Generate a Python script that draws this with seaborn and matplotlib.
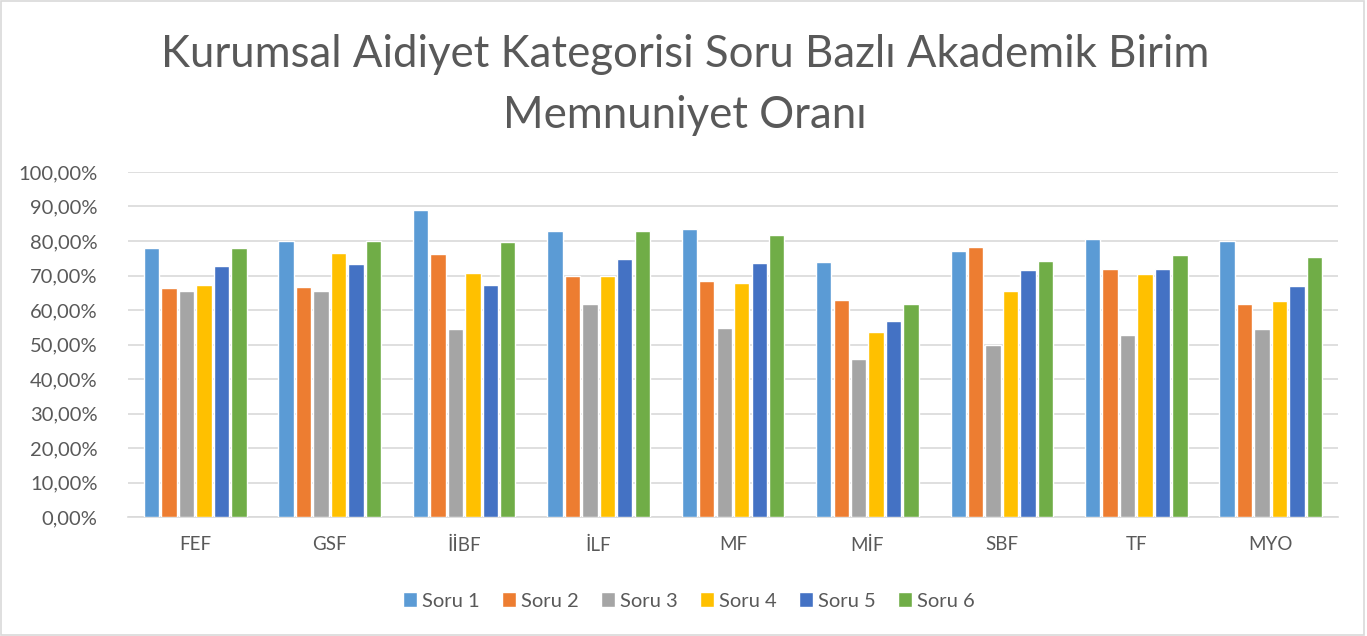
import matplotlib
matplotlib.use("Agg")
import matplotlib.pyplot as plt
import seaborn as sns
import pandas as pd
from matplotlib.ticker import FuncFormatter

units = ["FEF", "GSF", "İİBF", "İLF", "MF", "MİF", "SBF", "TF", "MYO"]
series_names = ["Soru 1", "Soru 2", "Soru 3", "Soru 4", "Soru 5", "Soru 6"]
soru1 = [78.0, 80.0, 89.0, 83.0, 83.6, 73.8, 77.0, 80.5, 80.0]
soru2 = [66.3, 66.7, 76.1, 69.9, 68.4, 63.0, 78.4, 72.0, 61.8]
soru3 = [65.5, 65.5, 54.5, 61.7, 54.9, 45.9, 49.9, 52.8, 54.6]
soru4 = [67.2, 76.4, 70.8, 69.9, 67.7, 53.7, 65.6, 70.4, 62.6]
soru5 = [72.7, 73.3, 67.2, 74.8, 73.5, 56.9, 71.5, 72.0, 66.9]
soru6 = [78.0, 80.0, 79.8, 83.0, 81.7, 61.6, 74.1, 75.9, 75.5]
colors = ["#5B9BD5", "#ED7D31", "#A5A5A5", "#FFC000", "#4472C4", "#70AD47"]
title_lines = ["Kurumsal Aidiyet Kategorisi Soru Bazlı Akademik Birim", "Memnuniyet Oranı"]

rows = []
for name, vals in zip(series_names, [soru1, soru2, soru3, soru4, soru5, soru6]):
    for u, v in zip(units, vals):
        rows.append({"Birim": u, "Soru": name, "Oran": v / 100.0})
df = pd.DataFrame(rows)

sns.set_theme(style="white")
plt.rcParams["font.family"] = ["Lato", "DejaVu Sans"]

fig = plt.figure(figsize=(13.67, 6.36), dpi=100)
ax = fig.add_axes([128 / 1367, 1 - 517 / 636, (1338 - 128) / 1367, (517 - 172) / 636])

sns.barplot(data=df, x="Birim", y="Oran", hue="Soru", order=units,
            hue_order=series_names, palette=colors, width=0.78, gap=0.12,
            saturation=1, errorbar=None, ax=ax, zorder=3)

ax.set_ylim(0, 1.0)
ax.set_xlim(-0.5, len(units) - 0.5)
ax.set_yticks([i / 10 for i in range(11)])
ax.yaxis.set_major_formatter(FuncFormatter(lambda v, p: f"{v*100:.2f}%".replace(".", ",")))
ax.grid(axis="y", color="#d9d9d9", linewidth=1.2, zorder=0)
ax.set_axisbelow(True)
for s in ["top", "right", "left"]:
    ax.spines[s].set_visible(False)
ax.spines["bottom"].set_color("#d9d9d9")
ax.spines["bottom"].set_linewidth(1.2)
ax.tick_params(axis="both", length=0, colors="#595959")
ax.tick_params(axis="x", pad=14, labelsize=13.5)
ax.tick_params(axis="y", pad=22, labelsize=14.5)
ax.set_xlabel("")
ax.set_ylabel("")

ax.legend_.remove()
handles, labels = ax.get_legend_handles_labels()
fig.legend(handles, labels, loc="center", bbox_to_anchor=(689 / 1367, 1 - 601 / 636),
           ncol=6, frameon=False, fontsize=14.5, handlelength=0.7, handleheight=0.7,
           handletextpad=0.25, columnspacing=1.1, labelcolor="#595959")

for line, base_y in zip(title_lines, [67, 128]):
    fig.text(685 / 1367, 1 - base_y / 636, line, ha="center", va="baseline",
             fontsize=31.5, color="#595959")

fig.patches.append(plt.Rectangle((0.001, 0.002), 0.997, 0.996, transform=fig.transFigure,
                                 fill=False, edgecolor="#d9d9d9", linewidth=1.2))

fig.savefig("out.png", dpi=100)
